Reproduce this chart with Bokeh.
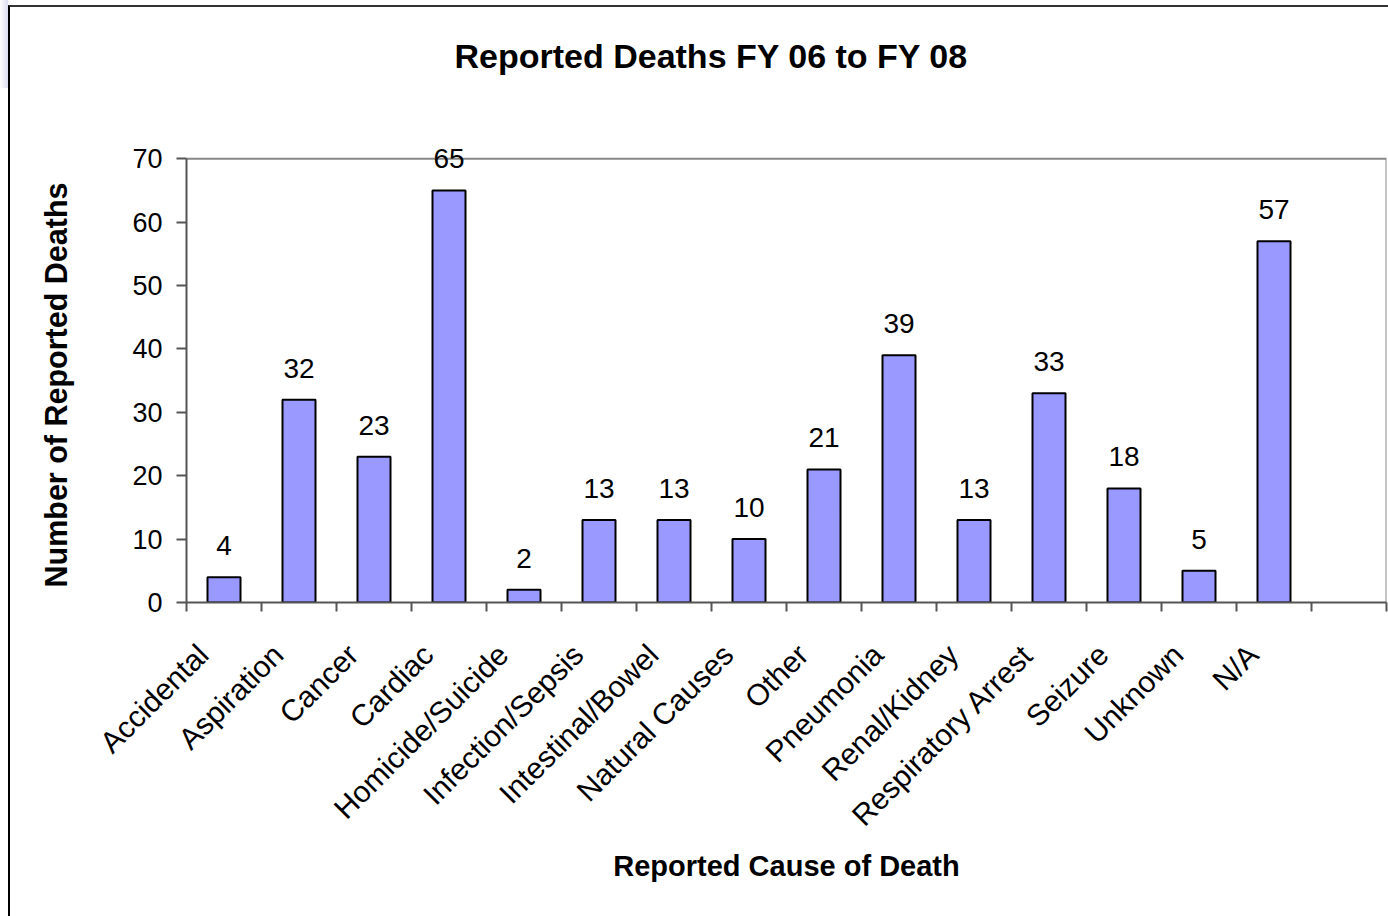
from math import pi
from bokeh.plotting import figure
from bokeh.models import ColumnDataSource, FixedTicker, LabelSet, Range1d, Title, InlineStyleSheet
from bokeh.core.properties import value
from bokeh.embed import file_html
from bokeh.resources import INLINE

# ---- data ----
causes = ["Accidental", "Aspiration", "Cancer", "Cardiac", "Homicide/Suicide",
          "Infection/Sepsis", "Intestinal/Bowel", "Natural Causes", "Other",
          "Pneumonia", "Renal/Kidney", "Respiratory Arrest", "Seizure",
          "Unknown", "N/A"]
deaths = [4, 32, 23, 65, 2, 13, 13, 10, 21, 39, 13, 33, 18, 5, 57]
n_slots = 16          # category axis has one empty slot after N/A
y_ticks = [0, 10, 20, 30, 40, 50, 60, 70]
title_text = "Reported Deaths FY 06 to FY 08"
x_title = "Reported Cause of Death"
y_title = "Number of Reported Deaths"

FONT = "Liberation Sans"
AXIS_COLOR = "#555555"
LABEL_SHIFT = 0.28   # category labels sit a little left of the slot centre

y_top = y_ticks[-1]
y_headroom = y_top * 1.057   # room above the plot box so the "65" label is not clipped

centers = [i + 0.5 for i in range(len(causes))]
label_pos = [c - LABEL_SHIFT for c in centers]
src = ColumnDataSource(dict(x=centers, y=deaths, label=[str(v) for v in deaths]))

# chart-object frame (left and top edges) and the slide strip at the far left
frame_css = InlineStyleSheet(css="""
:host { position: relative; }
:host::after {
  content: ""; position: absolute; left: 8px; top: 5px; right: 0; bottom: 0;
  border-left: 2px solid #000; border-top: 2px solid #333;
  pointer-events: none; z-index: 10;
}
:host::before {
  content: ""; position: absolute; left: 0; top: 0; width: 8px; height: 88px;
  background: linear-gradient(to right, #ffffff, #dcdcf0);
  pointer-events: none; z-index: 10;
}
""")

p = figure(width=1388, height=916, output_backend="svg", toolbar_location=None,
           title=None,
           x_range=Range1d(0, n_slots), y_range=Range1d(y_ticks[0], y_headroom),
           min_border_left=186, min_border_right=2, min_border_top=133,
           min_border_bottom=314, background_fill_color="white",
           border_fill_color="white")
p.stylesheets = [frame_css]

# spacer (nearest the plot box) then the main title above it
p.add_layout(Title(text=" ", text_font_size="1px", text_color="white", standoff=51), "above")
p.add_layout(Title(text=title_text, text_font=FONT, text_font_size="34px",
                   text_font_style="bold", text_color="black",
                   align="left", offset=268, standoff=10), "above")

p.xgrid.visible = False
p.ygrid.visible = False
p.outline_line_color = None

# plot-box border (top and right), drawn at the top tick and the last slot edge
p.line(x=[0, n_slots, n_slots], y=[y_top, y_top, 0], line_color="#888888", line_width=2)

p.vbar(x="x", top="y", bottom=0, width=0.44, source=src,
       fill_color="#9999FF", line_color="black", line_width=2)

p.add_layout(LabelSet(x="x", y="y", text="label", source=src,
                      text_align="center", text_baseline="alphabetic",
                      y_offset=22, text_font=value(FONT), text_font_size=value("28px"),
                      text_color="black"))

xa = p.xaxis[0]
xa.ticker = FixedTicker(ticks=label_pos, minor_ticks=list(range(n_slots + 1)))
xa.major_label_overrides = {c: name for c, name in zip(label_pos, causes)}
xa.major_tick_out = 0
xa.major_tick_in = 0
xa.minor_tick_out = 9
xa.minor_tick_in = 0
xa.minor_tick_line_color = AXIS_COLOR
xa.minor_tick_line_width = 2
xa.axis_line_color = AXIS_COLOR
xa.axis_line_width = 2
xa.major_label_orientation = pi / 4
xa.major_label_standoff = 38
xa.major_label_text_font = FONT
xa.major_label_text_font_size = "30px"
xa.major_label_text_color = "black"
xa.axis_label = x_title
xa.axis_label_text_font = FONT
xa.axis_label_text_font_size = "29px"
xa.axis_label_text_font_style = "bold"
xa.axis_label_text_color = "black"
xa.axis_label_standoff = 3

ya = p.yaxis[0]
ya.ticker = FixedTicker(ticks=y_ticks)
ya.bounds = (y_ticks[0], y_top)
ya.major_tick_out = 10
ya.major_tick_in = 0
ya.major_tick_line_color = AXIS_COLOR
ya.major_tick_line_width = 2
ya.minor_tick_line_color = None
ya.axis_line_color = AXIS_COLOR
ya.axis_line_width = 2
ya.major_label_standoff = 14
ya.major_label_text_font = FONT
ya.major_label_text_font_size = "27px"
ya.major_label_text_color = "black"

# y-axis title as a side title so that it can be placed along the axis
p.add_layout(Title(text=" ", text_font_size="1px", text_color="white", standoff=52), "left")
p.add_layout(Title(text=y_title, text_font=FONT, text_font_size="30.5px",
                   text_font_style="bold", text_color="black",
                   align="left", offset=15, standoff=4), "left")

open("out.html", "w").write(file_html(p, INLINE))
